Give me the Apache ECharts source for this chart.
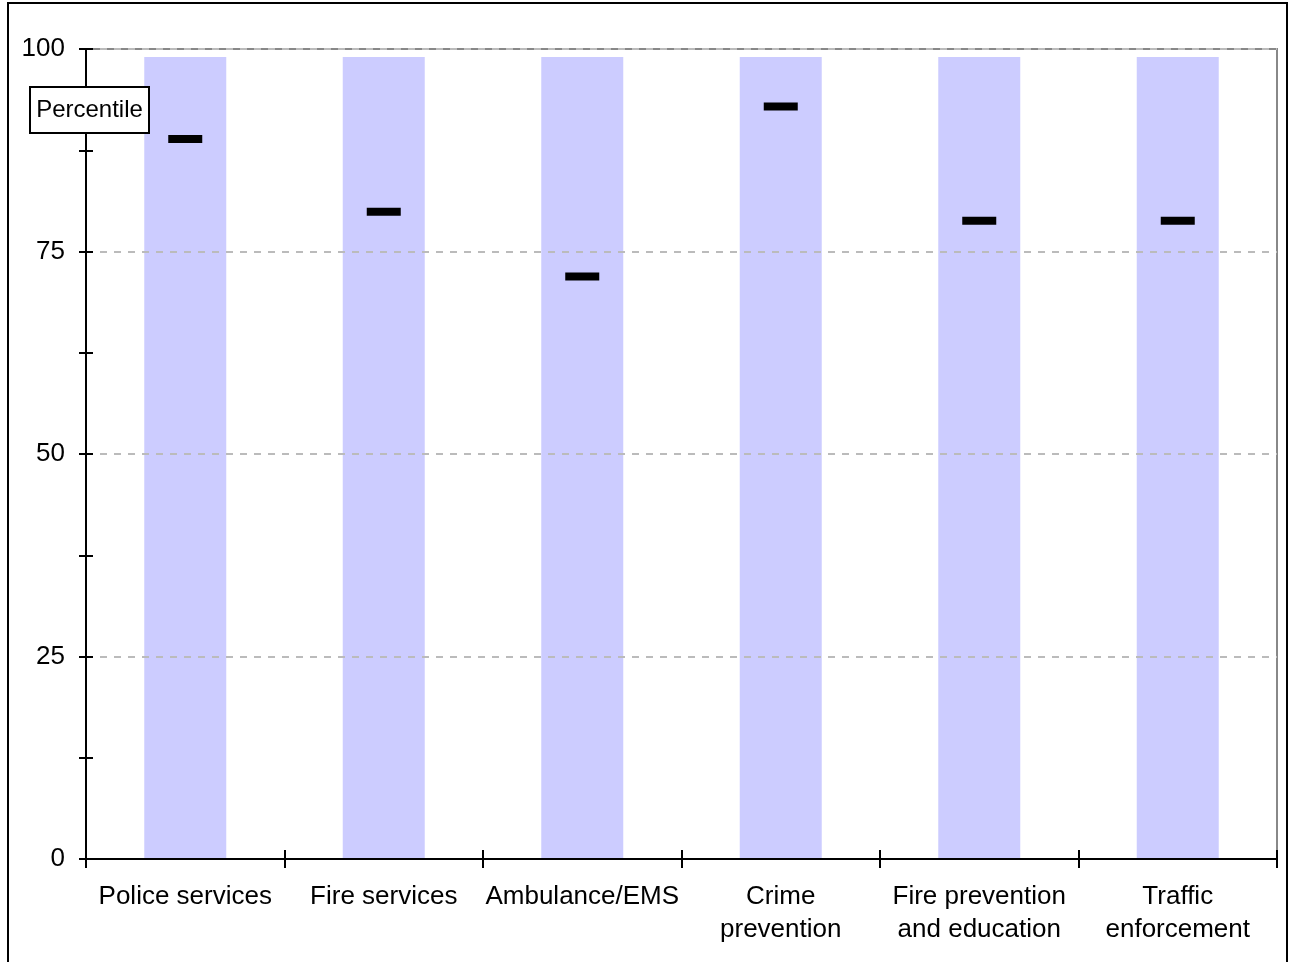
<!DOCTYPE html>
<html>
<head>
<meta charset="utf-8">
<script src="https://cdn.jsdelivr.net/npm/echarts@6/dist/echarts.min.js"></script>
<style>
html,body{margin:0;padding:0;background:#fff;}
#chart{width:1294px;height:962px;}
</style>
</head>
<body>
<div id="chart"></div>
<script>
const categories = ['Police services', 'Fire services', 'Ambulance/EMS', 'Crime\nprevention', 'Fire prevention\nand education', 'Traffic\nenforcement'];
const rangeValues = [99, 99, 99, 99, 99, 99];
const percentileValues = [88.9, 79.9, 71.9, 92.9, 78.8, 78.8];
const yTicks = [0, 25, 50, 75, 100];

const chart = echarts.init(document.getElementById('chart'), null, {renderer: 'canvas'});
const font = 'Liberation Sans, Arial, sans-serif';
chart.setOption({
  animation: false,
  backgroundColor: '#fff',
  grid: [
    {left: 86, right: 17, top: 49, bottom: 103, show: true, borderColor: '#888', borderWidth: 2, backgroundColor: 'transparent'}
  ],
  xAxis: [{
    type: 'category', data: categories, position: 'bottom',
    axisLine: {show: true, lineStyle: {color: '#000', width: 2}},
    axisTick: {show: true, inside: false, length: 9, interval: 0, lineStyle: {color: '#000', width: 2}},
    axisLabel: {color: '#000', fontSize: 26, fontFamily: font, margin: 21, lineHeight: 33, interval: 0},
    splitLine: {show: false}, z: 5
  }, {
    type: 'category', data: categories, position: 'bottom',
    axisLine: {show: true, lineStyle: {color: '#000', width: 2}},
    axisTick: {show: true, inside: true, length: 9, interval: 0, lineStyle: {color: '#000', width: 2}},
    axisLabel: {show: false}, splitLine: {show: false}, z: 6
  }],
  yAxis: [{
    type: 'value', min: 0, max: 100, interval: 25, position: 'left',
    axisLine: {show: true, lineStyle: {color: '#000', width: 2}},
    axisTick: {show: true, length: 7, lineStyle: {color: '#000', width: 2}},
    minorTick: {show: true, splitNumber: 2, length: 7, lineStyle: {color: '#000', width: 2}},
    axisLabel: {color: '#000', fontSize: 26, fontFamily: font, margin: 21,
      formatter: v => yTicks.includes(v) ? String(v) : ''},
    splitLine: {show: true, lineStyle: {color: '#bbb', width: 2, type: [7, 7]}},
    z: 5
  }, {
    type: 'value', min: 0, max: 100, interval: 25, position: 'left', offset: 0,
    axisLine: {show: true, onZero: false, lineStyle: {color: '#000', width: 2}},
    axisTick: {show: true, inside: true, length: 7, lineStyle: {color: '#000', width: 2}},
    minorTick: {show: true, splitNumber: 2, length: 7, lineStyle: {color: '#000', width: 2}},
    axisLabel: {show: false}, splitLine: {show: false}, z: 6
  }],
  series: [{
    type: 'bar', data: rangeValues, barWidth: 82, xAxisIndex: 0, yAxisIndex: 0,
    itemStyle: {color: '#ccccff'}, z: 2, silent: true
  }, {
    type: 'scatter', data: percentileValues, xAxisIndex: 0, yAxisIndex: 0,
    symbol: 'rect', symbolSize: [34, 8],
    itemStyle: {color: '#000', opacity: 1}, z: 4, silent: true
  }, {
    type: 'scatter', data: [], xAxisIndex: 1, yAxisIndex: 1, silent: true
  }],
  graphic: [{
    type: 'rect', shape: {x: 8, y: 3, width: 1279, height: 980},
    style: {fill: 'none', stroke: '#000', lineWidth: 2}, z: 100, silent: true
  }, {
    type: 'rect', shape: {x: 30, y: 87, width: 119, height: 46},
    style: {fill: '#fff', stroke: '#000', lineWidth: 2}, z: 200, zlevel: 1, silent: true
  }, {
    type: 'text', x: 89.5, y: 110, z: 201, zlevel: 1,
    style: {text: 'Percentile', fill: '#000', fontSize: 24, fontFamily: font, align: 'center', verticalAlign: 'middle'}
  }]
});
</script>
</body>
</html>
